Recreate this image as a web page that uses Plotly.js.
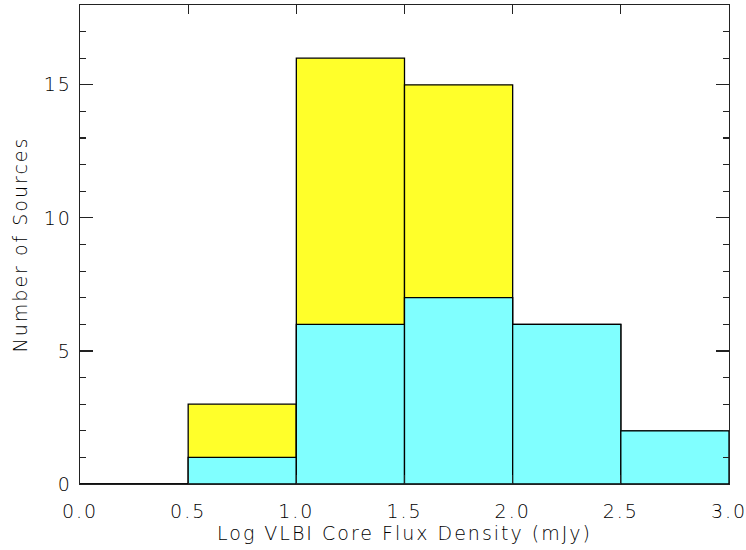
<!DOCTYPE html>
<html>
<head>
<meta charset="utf-8">
<script src="https://cdn.plot.ly/plotly-3.0.1.min.js"></script>
<style>
html,body{margin:0;padding:0;background:#fff;}
#chart{width:746px;height:550px;}
#chart text{letter-spacing:2px;}
</style>
</head>
<body>
<div id="chart"></div>
<script>
const binCenters = [0.25, 0.75, 1.25, 1.75, 2.25, 2.75];
const totalCounts = [0, 3, 16, 15, 6, 2];
const coreCounts = [0, 1, 6, 7, 6, 2];
const xTickVals = [0, 0.5, 1, 1.5, 2, 2.5, 3];
const xTickText = ['0.0', '0.5', '1.0', '1.5', '2.0', '2.5', '3.0'];

const font = {family: 'DejaVu Sans, sans-serif', size: 19, color: '#000', weight: 200};

const traces = [
  {type: 'bar', x: binCenters, y: totalCounts, width: 0.5,
   marker: {color: '#ffff2a', line: {color: '#000', width: 1.3}},
   hoverinfo: 'skip', showlegend: false},
  {type: 'bar', x: binCenters, y: coreCounts, width: 0.5,
   marker: {color: '#80ffff', line: {color: '#000', width: 1.3}},
   hoverinfo: 'skip', showlegend: false}
];

const layout = {
  width: 746, height: 550,
  margin: {l: 80, r: 17, t: 5, b: 66},
  paper_bgcolor: '#fff', plot_bgcolor: '#fff',
  barmode: 'overlay',
  font: font,
  xaxis: {
    range: [0, 3], tickvals: xTickVals, ticktext: xTickText,
    ticks: 'inside', ticklen: 9, tickwidth: 1.2, tickcolor: '#222',
    showline: true, linecolor: '#222', linewidth: 1.3, mirror: 'ticks',
    showgrid: false, zeroline: false,
    ticklabelstandoff: 10,
    tickfont: font,
    title: {text: 'Log VLBI Core Flux Density (mJy)', font: font, standoff: 5}
  },
  yaxis: {
    range: [0, 18], tickvals: [0, 5, 10, 15], ticktext: ['0', '5', '10', '15'],
    ticks: 'inside', ticklen: 13, tickwidth: 1.2, tickcolor: '#222',
    minor: {ticks: 'inside', ticklen: 6, dtick: 1, tick0: 0, tickwidth: 1.2, tickcolor: '#222', showgrid: false},
    showline: true, linecolor: '#222', linewidth: 1.3, mirror: 'ticks',
    showgrid: false, zeroline: false,
    ticklabelstandoff: 3,
    tickfont: font,
    title: {text: 'Number of Sources', font: font, standoff: 15}
  }
};

Plotly.newPlot('chart', traces, layout, {displayModeBar: false, staticPlot: true});
</script>
</body>
</html>
